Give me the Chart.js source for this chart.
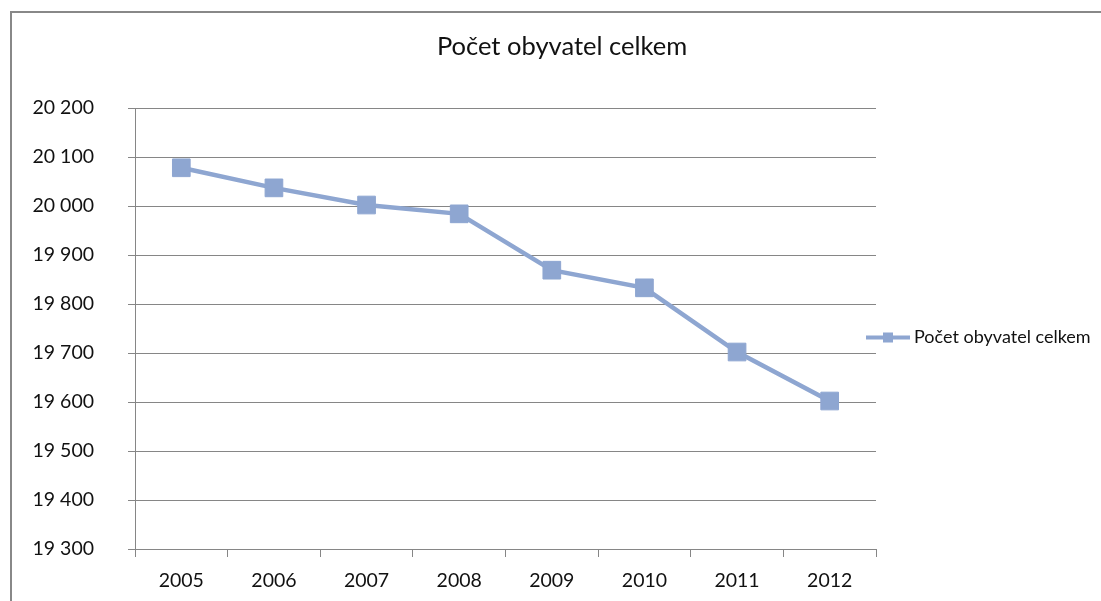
<!DOCTYPE html>
<html>
<head>
<meta charset="utf-8">
<script src="https://cdn.jsdelivr.net/npm/chart.js@4"></script>
<style>
  html, body { margin: 0; padding: 0; background: #fff; overflow: hidden; }
  #frame { position: absolute; left: 10px; top: 11px; right: -10px; bottom: -10px;
           border: 2px solid #888; }
  #wrap { position: absolute; left: 0; top: 0; width: 1101px; height: 601px; }
</style>
</head>
<body>
<div id="frame"></div>
<div id="wrap"><canvas id="myChart" width="1101" height="601"></canvas></div>
<script>
var years = ['2005', '2006', '2007', '2008', '2009', '2010', '2011', '2012'];
var obyvatele = [20078, 20037, 20002, 19984, 19869, 19833, 19702, 19602];
var seriesName = 'Počet obyvatel celkem';
var chartTitle = 'Počet obyvatel celkem';
var yMin = 19300, yMax = 20200, yStep = 100;

var lineColor = '#8EA6D1';
var fontName = 'Lato, "Open Sans", sans-serif';

function spaced(v) {
    return String(v).replace(/\B(?=(\d{3})+(?!\d))/g, ' ');
}

// title + legend drawn like in Excel
var excelBits = {
    id: 'excelBits',
    afterDraw: function(chart) {
        var c = chart.ctx, a = chart.chartArea;
        c.save();
        c.fillStyle = '#111';
        c.font = '25.5px ' + fontName;
        c.textAlign = 'center';
        c.textBaseline = 'middle';
        c.fillText(chartTitle, 562, 47);

        var ly = (a.top + a.bottom) / 2 + 9;
        var lx = a.right - 10;
        c.strokeStyle = lineColor;
        c.lineWidth = 4;
        c.beginPath();
        c.moveTo(lx, ly);
        c.lineTo(lx + 44, ly);
        c.stroke();
        c.fillStyle = lineColor;
        c.fillRect(lx + 17, ly - 5, 10, 10);
        c.fillStyle = '#111';
        c.font = '18px ' + fontName;
        c.textAlign = 'left';
        c.fillText(seriesName, lx + 48, ly);
        c.restore();
    }
};

var ctx = document.getElementById('myChart').getContext('2d');
var myChart = new Chart(ctx, {
    type: 'line',
    data: {
        labels: years,
        datasets: [{
            label: seriesName,
            data: obyvatele,
            borderColor: lineColor,
            backgroundColor: lineColor,
            borderWidth: 4.5,
            pointStyle: 'rect',
            pointRadius: 12.5,
            pointHoverRadius: 12.5,
            pointBorderWidth: 1,
            tension: 0
        }]
    },
    options: {
        responsive: false,
        animation: false,
        layout: { padding: { top: 108, right: 225, left: 0, bottom: 0 } },
        plugins: {
            legend: { display: false },
            title: { display: false },
            tooltip: { enabled: false }
        },
        scales: {
            x: {
                offset: true,
                grid: { offset: true, drawOnChartArea: false, color: '#868686', tickLength: 8 },
                border: { color: '#868686' },
                ticks: { color: '#111', font: { family: fontName, size: 19.5 }, padding: 12 },
                afterFit: function(s) { s.height = 52; }
            },
            y: {
                min: yMin,
                max: yMax,
                grid: { color: '#868686', tickLength: 7 },
                border: { color: '#868686' },
                ticks: {
                    stepSize: yStep,
                    color: '#111',
                    font: { family: fontName, size: 19.5 },
                    padding: 34,
                    callback: function(v) { return spaced(v); }
                },
                afterFit: function(s) { s.width = 135; }
            }
        }
    },
    plugins: [excelBits]
});
</script>
</body>
</html>
